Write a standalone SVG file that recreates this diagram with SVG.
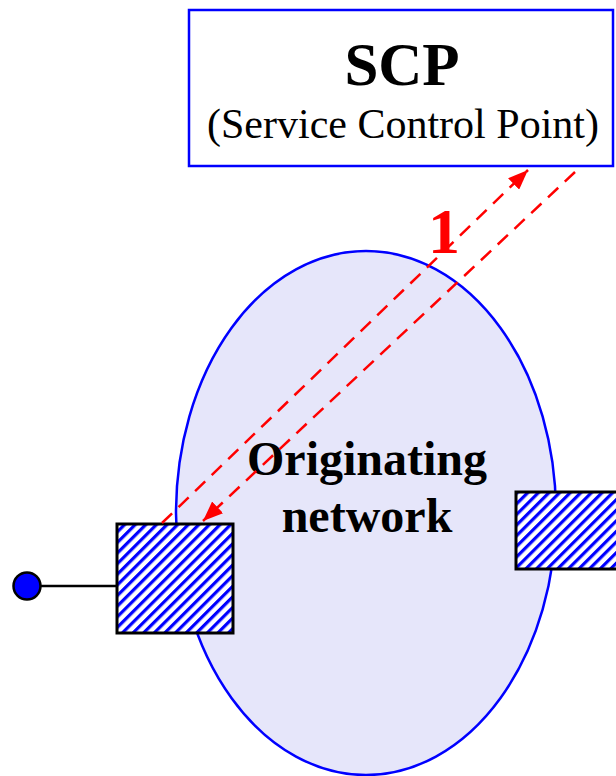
<svg xmlns="http://www.w3.org/2000/svg" width="616" height="776" viewBox="0 0 616 776">
<style>
.serif{font-family:"Liberation Serif","Times New Roman",serif}
.sw{fill:url(#hatch);stroke:#000;stroke-width:3}
.dash{stroke:#ff0000;stroke-width:2.5;stroke-dasharray:14 9;fill:none}
</style>
<defs>
<pattern id="hatch" patternUnits="userSpaceOnUse" width="7.5" height="7.5" patternTransform="rotate(45)">
<rect width="7.5" height="7.5" fill="#fff"/>
<rect x="0" y="0" width="3.2" height="7.5" fill="#0000ff"/>
</pattern>
<marker id="arr" viewBox="0 0 20 16" refX="20" refY="8" markerWidth="20" markerHeight="16" orient="auto" markerUnits="userSpaceOnUse">
<path d="M0,0 L20,8 L0,16 Z" fill="#ff0000"/>
</marker>
</defs>
<g id="network">
<ellipse cx="366" cy="513" rx="190" ry="262" fill="#e6e6fa" stroke="#0000ff" stroke-width="2.5"/>
<text class="serif" x="367" y="475" font-size="48" font-weight="bold" text-anchor="middle">Originating</text>
<text class="serif" x="367" y="532" font-size="48" font-weight="bold" text-anchor="middle">network</text>
</g>
<g id="scp">
<rect x="189" y="10" width="424" height="156" fill="#fff" stroke="#0000ff" stroke-width="2.5"/>
<text class="serif" x="402" y="85" font-size="61" font-weight="bold" text-anchor="middle">SCP</text>
<text class="serif" x="403" y="138" font-size="42" text-anchor="middle">(Service Control Point)</text>
</g>
<g id="left-switch">
<rect class="sw" x="117" y="524" width="116" height="109"/>
</g>
<g id="right-switch">
<rect class="sw" x="516" y="492" width="103" height="77"/>
</g>
<g id="terminal">
<circle cx="27" cy="586" r="13.5" fill="#0000ff" stroke="#000" stroke-width="2.5"/>
</g>
<g id="connectors">
<line x1="41" y1="586" x2="117" y2="586" stroke="#000" stroke-width="2.5"/>
<line class="dash" x1="162" y1="523" x2="528" y2="170" marker-end="url(#arr)"/>
<line class="dash" x1="575" y1="172" x2="203" y2="521" marker-end="url(#arr)"/>
<text class="serif" x="444" y="253" font-size="64" font-weight="bold" fill="#ff0000" text-anchor="middle">1</text>
</g>
</svg>
